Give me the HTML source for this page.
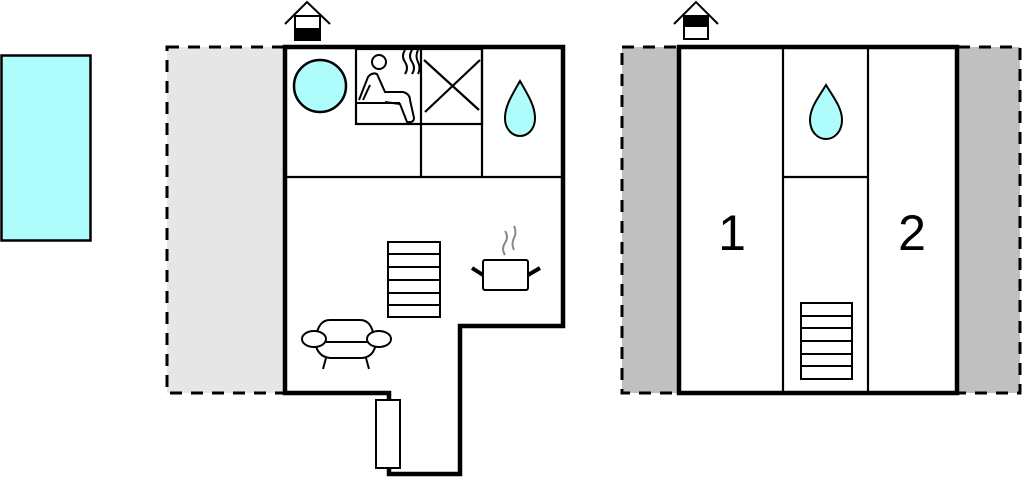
<!DOCTYPE html>
<html><head><style>html,body{margin:0;padding:0;background:#fff;overflow:hidden}</style></head>
<body>
<svg width="1024" height="478" viewBox="0 0 1024 478" xmlns="http://www.w3.org/2000/svg" font-family="Liberation Sans, sans-serif">
<rect x="1.5" y="55.5" width="89" height="185" fill="#aefcfc" stroke="#000" stroke-width="2.5"/>
<rect x="167" y="47" width="118" height="346" fill="#e6e6e6" stroke="#000" stroke-width="3" stroke-dasharray="12,9"/>
<path d="M285 47 H563 V326 H460 V474 H389 V393 H285 Z" fill="#fff" stroke="#000" stroke-width="4.5"/>
<g stroke="#000" stroke-width="2.2" fill="none">
<line x1="285" y1="177" x2="563" y2="177"/>
<line x1="482" y1="47" x2="482" y2="177"/>
<line x1="421" y1="47" x2="421" y2="177"/>
<rect x="356" y="49" width="126" height="75"/>
<line x1="424" y1="60" x2="479" y2="110"/>
<line x1="425" y1="112" x2="480" y2="60"/>
</g>
<circle cx="320" cy="86" r="26" fill="#aefcfc" stroke="#000" stroke-width="2.5"/>
<path d="M520 81 C512 95 505 106 505 118 C505 130 513 136 520 136 C527 136 535 130 535 118 C535 106 528 95 520 81 Z" fill="#aefcfc" stroke="#000" stroke-width="2"/>
<g stroke="#000" stroke-width="2" fill="none">
<circle cx="379" cy="62" r="7"/>
<path d="M359 100 L368 77 Q372 72 377 74 L385 92 L403 92 Q410 94 410 100 L414 118 Q414 123 407 122 L400 104 L385 102"/>
<path d="M356 103 L400 103"/>
<path d="M363 100 L370 85"/>
<path d="M405 50 q-4 6 0 12 q4 6 0 12 M412 50 q-4 6 0 12 q4 6 0 12 M418 50 q-3 6 0 12 q3 6 0 12"/>
</g>
<g stroke="#000" stroke-width="2" fill="#fff">
<rect x="388" y="242" width="52" height="75"/>
<line x1="388" y1="254" x2="440" y2="254"/><line x1="388" y1="267" x2="440" y2="267"/><line x1="388" y1="280" x2="440" y2="280"/><line x1="388" y1="293" x2="440" y2="293"/><line x1="388" y1="305" x2="440" y2="305"/>
</g>
<rect x="483" y="260" width="45" height="30" rx="2" stroke="#000" stroke-width="2" fill="#fff"/>
<line x1="472" y1="268" x2="483" y2="275" stroke="#000" stroke-width="4"/>
<line x1="540" y1="268" x2="528" y2="275" stroke="#000" stroke-width="4"/>
<path d="M505 255 q-4 -6 0 -12 q4 -6 0 -12 M514 250 q-3 -6 0 -12 q3 -6 0 -12" stroke="#888" stroke-width="2" fill="none"/>
<g stroke="#000" stroke-width="2" fill="#fff">
<path d="M316 338 Q318 320 330 320 H360 Q372 320 374 338"/>
<path d="M315 343 Q318 357 330 358 H362 Q374 357 376 343"/>
<ellipse cx="314" cy="339" rx="12" ry="8"/>
<ellipse cx="379" cy="339" rx="12" ry="8"/>
<line x1="326" y1="358" x2="323" y2="369"/><line x1="366" y1="358" x2="369" y2="369"/>
<line x1="326" y1="342" x2="367" y2="342"/>
</g>
<rect x="376" y="400" width="24" height="68" fill="#fff" stroke="#000" stroke-width="2"/>
<polyline points="285,24 307,2 330,24" fill="none" stroke="#000" stroke-width="2"/>
<rect x="295" y="16" width="25" height="24" fill="#fff" stroke="#000" stroke-width="2"/>
<rect x="295" y="28" width="25" height="12" fill="#000"/>
<rect x="622" y="47" width="398" height="346" fill="#c0c0c0" stroke="#000" stroke-width="3" stroke-dasharray="12,9"/>
<rect x="679" y="47" width="278" height="346" fill="#fff" stroke="#000" stroke-width="4.5"/>
<g stroke="#000" stroke-width="2.2">
<line x1="783" y1="47" x2="783" y2="393"/>
<line x1="868" y1="47" x2="868" y2="393"/>
<line x1="783" y1="177" x2="868" y2="177"/>
</g>
<path d="M826 85 C818 98 810 108 810 120 C810 132 818 139 826 139 C834 139 842 132 842 120 C842 108 834 98 826 85 Z" fill="#aefcfc" stroke="#000" stroke-width="2"/>
<text x="732" y="250" font-size="50" text-anchor="middle">1</text>
<text x="912" y="250" font-size="50" text-anchor="middle">2</text>
<g stroke="#000" stroke-width="2" fill="#fff">
<rect x="801" y="303" width="51" height="76"/>
<line x1="801" y1="316" x2="852" y2="316"/><line x1="801" y1="328" x2="852" y2="328"/><line x1="801" y1="341" x2="852" y2="341"/><line x1="801" y1="354" x2="852" y2="354"/><line x1="801" y1="366" x2="852" y2="366"/>
</g>
<polyline points="674,24 696,2 718,24" fill="none" stroke="#000" stroke-width="2"/>
<rect x="684" y="16" width="24" height="23" fill="#fff" stroke="#000" stroke-width="2"/>
<rect x="684" y="16" width="24" height="11" fill="#000"/>
</svg>
</body></html>
